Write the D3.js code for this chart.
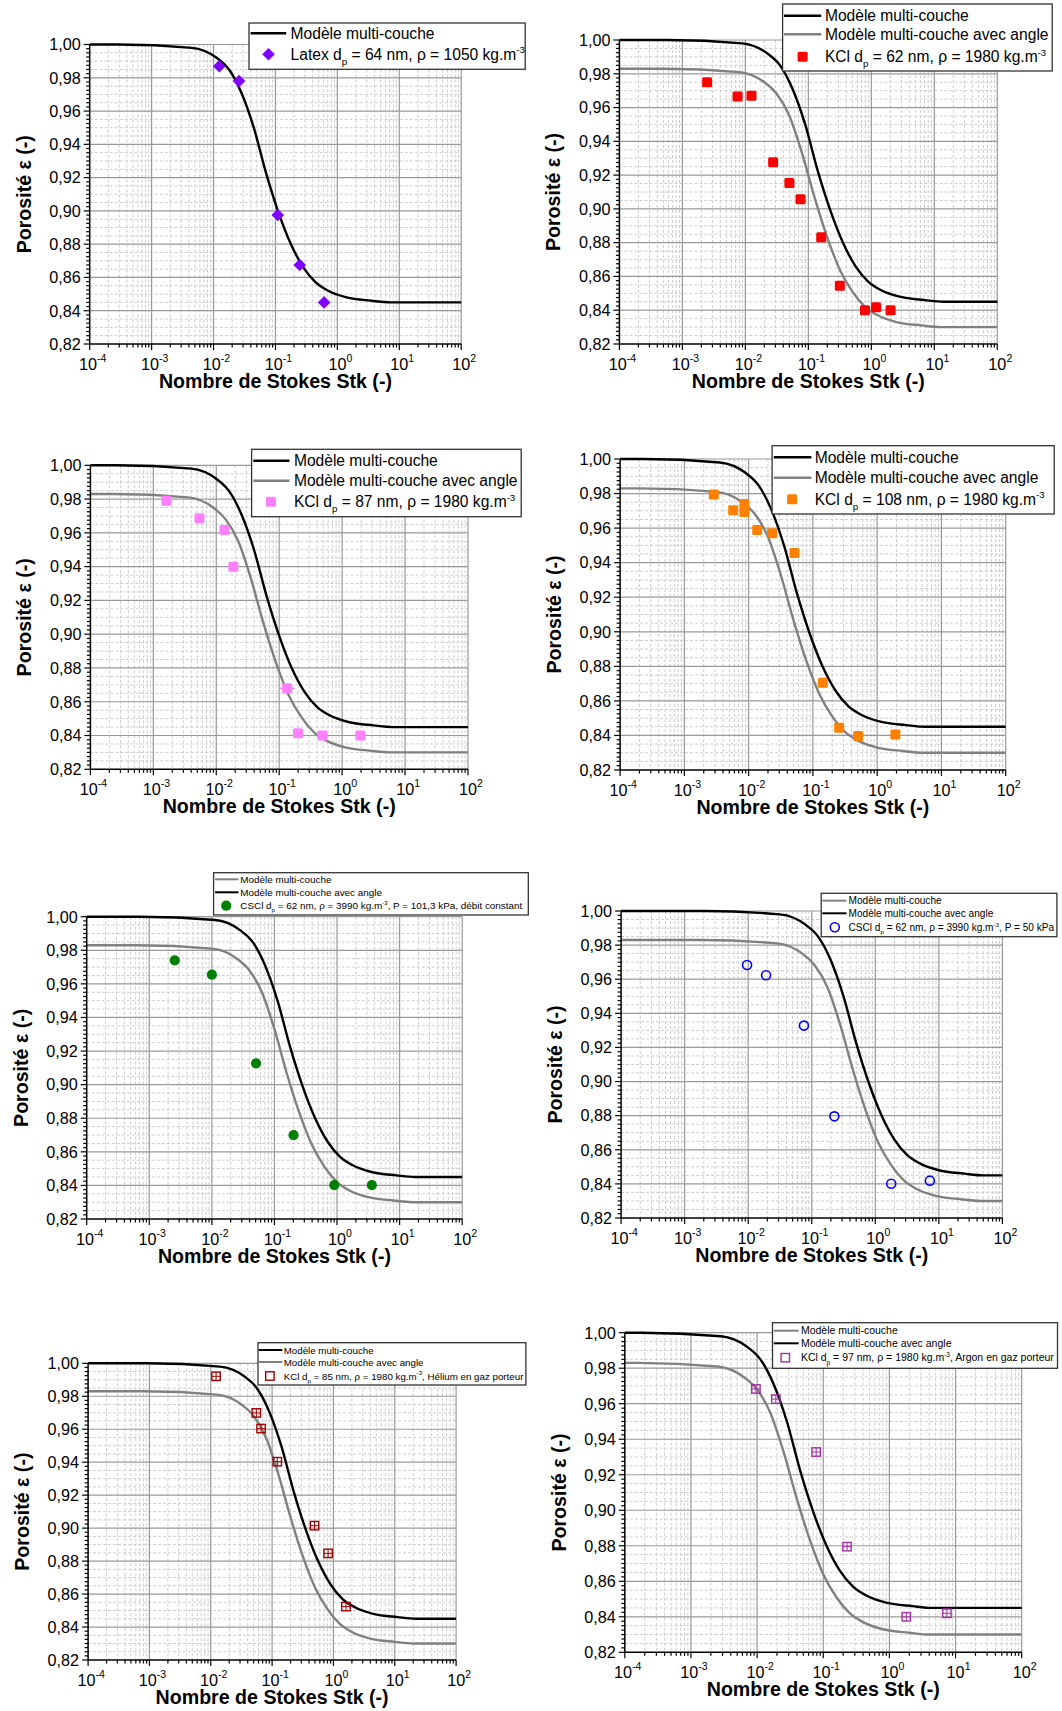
<!DOCTYPE html>
<html><head><meta charset="utf-8">
<script src="https://cdn.jsdelivr.net/npm/d3@7"></script>
<style>body{margin:0;background:#fff}svg{display:block}text{font-family:Arial,"Liberation Sans",sans-serif;fill:#000}</style>
</head><body><svg id="c" width="1062" height="1711"></svg>
<script>
// ---------- data ----------
const yTickValues = [0.82, 0.84, 0.86, 0.88, 0.90, 0.92, 0.94, 0.96, 0.98, 1.00];
const yTickLabels = ["0,82","0,84","0,86","0,88","0,90","0,92","0,94","0,96","0,98","1,00"];
const xTickValues = [1e-4, 1e-3, 1e-2, 1e-1, 1e0, 1e1, 1e2];
const xTickExps = ["-4","-3","-2","-1","0","1","2"];
const xTitle = "Nombre de Stokes Stk (-)";
const yTitle = "Porosité ε (-)";
const lblMulti = "Modèle multi-couche";
const lblAngle = "Modèle multi-couche avec angle";

// model curves: porosity values
const epsMulti = [1.000, 1.000, 0.998, 0.992, 0.985, 0.971, 0.950, 0.9225, 0.899, 0.880, 0.866, 0.857, 0.852, 0.848, 0.846, 0.845, 0.845];
const epsAngle = [0.983, 0.983, 0.981, 0.975, 0.968, 0.955, 0.933, 0.9065, 0.883, 0.864, 0.851, 0.842, 0.837, 0.833, 0.831, 0.830, 0.830];
// Stokes abscissae of the curves, per panel
const stkMulti1 = [1e-4, 2.82e-4, 4.47e-3, 0.0112, 0.0178, 0.0282, 0.0447, 0.0708, 0.112, 0.178, 0.282, 0.447, 0.708, 1.41, 3.55, 7.08, 100];
const stkMulti2 = [1e-4, 5.62e-4, 8.91e-3, 0.0224, 0.0355, 0.0562, 0.0891, 0.141, 0.224, 0.355, 0.562, 0.891, 1.41, 2.82, 7.08, 14.1, 100];
const stkAngle2 = [1e-4, 5.01e-4, 7.94e-3, 0.0200, 0.0316, 0.0501, 0.0794, 0.126, 0.200, 0.316, 0.501, 0.794, 1.26, 2.51, 6.31, 12.6, 100];
const stkMulti3 = [1e-4, 2.51e-4, 3.98e-3, 0.0100, 0.0158, 0.0251, 0.0398, 0.0631, 0.100, 0.158, 0.251, 0.398, 0.631, 1.26, 3.16, 6.31, 100];
const stkAngle3 = [1e-4, 2.24e-4, 3.55e-3, 8.91e-3, 0.0141, 0.0224, 0.0355, 0.0562, 0.0891, 0.141, 0.224, 0.355, 0.562, 1.12, 2.82, 5.62, 100];
const stkMulti4 = [1e-4, 2.24e-4, 3.55e-3, 8.91e-3, 0.0141, 0.0224, 0.0355, 0.0562, 0.0891, 0.141, 0.224, 0.355, 0.562, 1.12, 2.82, 5.62, 100];
const stkAngle4 = [1e-4, 2.00e-4, 3.16e-3, 7.94e-3, 0.0126, 0.0200, 0.0316, 0.0501, 0.0794, 0.126, 0.200, 0.316, 0.501, 1.00, 2.51, 5.01, 100];
const stkMulti5 = [1e-4, 7.08e-4, 0.0112, 0.0282, 0.0447, 0.0708, 0.112, 0.178, 0.282, 0.447, 0.708, 1.12, 1.78, 3.55, 8.91, 17.8, 100];
const stkAngle5 = [1e-4, 6.31e-4, 0.0100, 0.0251, 0.0398, 0.0631, 0.100, 0.158, 0.251, 0.398, 0.631, 1.00, 1.58, 3.16, 7.94, 15.8, 100];
const stkMulti6 = [1e-4, 2.00e-3, 0.0316, 0.0794, 0.126, 0.200, 0.316, 0.501, 0.794, 1.26, 2.00, 3.16, 5.01, 10.0, 25.1, 50.1, 100];
const stkAngle6 = [1e-4, 1.78e-3, 0.0282, 0.0708, 0.112, 0.178, 0.282, 0.447, 0.708, 1.12, 1.78, 2.82, 4.47, 8.91, 22.4, 44.7, 100];
const stkMulti7 = [1e-4, 8.91e-4, 0.0141, 0.0355, 0.0562, 0.0891, 0.141, 0.224, 0.355, 0.562, 0.891, 1.41, 2.24, 4.47, 11.2, 22.4, 100];
const stkAngle7 = [1e-4, 7.94e-4, 0.0126, 0.0316, 0.0501, 0.0794, 0.126, 0.200, 0.316, 0.501, 0.794, 1.26, 2.00, 3.98, 10.0, 20.0, 100];
const stkMulti8 = [1e-4, 1.78e-4, 2.82e-3, 7.08e-3, 0.0112, 0.0178, 0.0282, 0.0447, 0.0708, 0.112, 0.178, 0.282, 0.447, 0.891, 2.24, 4.47, 100];
const stkAngle8 = [1e-4, 1.58e-4, 2.51e-3, 6.31e-3, 0.0100, 0.0158, 0.0251, 0.0398, 0.0631, 0.100, 0.158, 0.251, 0.398, 0.794, 2.00, 3.98, 100];

// experimental points
const p1Stk = [0.0124, 0.0258, 0.109, 0.247, 0.611];
const p1Eps = [0.987, 0.978, 0.8975, 0.8675, 0.845];
const p2Stk = [0.00247, 0.00751, 0.0125, 0.0276, 0.0500, 0.0751, 0.160, 0.316, 0.791, 1.19, 2.02];
const p2Eps = [0.975, 0.9666, 0.967, 0.9276, 0.9153, 0.9057, 0.8832, 0.8545, 0.840, 0.8417, 0.840];
const p3Stk = [0.00161, 0.00541, 0.0135, 0.0187, 0.134, 0.199, 0.486, 1.95];
const p3Eps = [0.979, 0.9686, 0.9617, 0.940, 0.868, 0.8413, 0.840, 0.840];
const p3ErrLo = [null, null, null, null, 0.101, null, null, null];
const p3ErrHi = [null, null, null, null, 0.176, null, null, null];
const p4Stk = [0.00287, 0.00575, 0.00859, 0.00859, 0.0136, 0.0232, 0.0516, 0.143, 0.256, 0.506, 1.92];
const p4Eps = [0.9795, 0.9703, 0.974, 0.9693, 0.9589, 0.957, 0.9456, 0.8705, 0.8445, 0.8397, 0.8406];
const p5Stk = [0.00255, 0.0100, 0.0508, 0.202, 0.904, 3.60];
const p5Eps = [0.974, 0.9655, 0.9127, 0.870, 0.8402, 0.8402];
const p6Stk = [0.0096, 0.0191, 0.0753, 0.227, 1.78, 7.23];
const p6Eps = [0.9683, 0.9623, 0.9328, 0.8796, 0.8401, 0.8419];
const p7Stk = [0.0122, 0.0553, 0.0661, 0.1216, 0.492, 0.818, 1.60];
const p7Eps = [0.9921, 0.9699, 0.9604, 0.9403, 0.9015, 0.8847, 0.8524];
const p8Stk = [0.0096, 0.0192, 0.0781, 0.229, 1.80, 7.40];
const p8Eps = [0.9683, 0.9626, 0.9328, 0.8795, 0.840, 0.842];

// legend labels for the data series (segments: text, sub, sup)
const lbl1 = [["Latex d"],["p","sub"],[" = 64 nm, ρ = 1050 kg.m"],["-3","sup"]];
const lbl2 = [["KCl d"],["p","sub"],[" = 62 nm, ρ = 1980 kg.m"],["-3","sup"]];
const lbl3 = [["KCl d"],["p","sub"],[" = 87 nm, ρ = 1980 kg.m"],["-3","sup"]];
const lbl4 = [["KCl d"],["p","sub"],[" = 108 nm, ρ = 1980 kg.m"],["-3","sup"]];
const lbl5 = [["CSCl d"],["p","sub"],[" = 62 nm, ρ = 3990 kg.m"],["-3","sup"],[", P = 101,3 kPa, débit constant"]];
const lbl6 = [["CSCl d"],["p","sub"],[" = 62 nm, ρ = 3990 kg.m"],["-3","sup"],[", P = 50 kPa"]];
const lbl7 = [["KCl d"],["p","sub"],[" = 85 nm, ρ = 1980 kg.m"],["-3","sup"],[", Hélium en gaz porteur"]];
const lbl8 = [["KCl d"],["p","sub"],[" = 97 nm, ρ = 1980 kg.m"],["-3","sup"],[", Argon en gaz porteur"]];

// ---------- styles / layout ----------
const BLACK = "#000000", GRAY = "#808080";
const zip = (a, b) => a.map((v, i) => ({stk: v, eps: b[i]}));
const BIG = 15.6;

const panels = [
  {l:89.7, r:461.2, t:44.5, b:344, stk:p1Stk, eps:p1Eps, mk:"diamond", col:"#8000ff",
   curves:[{s:stkMulti1, e:epsMulti, c:BLACK}],
   leg:{box:[249,23,525.2,69.3], fs:BIG, lw:2.6, x1:250.6, x2:286.2, tx:290.6, mx:268.5,
        items:[{k:"line", c:BLACK, y:33.3, t:[[lblMulti]]},{k:"mk", y:54.3, t:lbl1}]}},
  {l:619.4, r:997.3, t:40, b:344, stk:p2Stk, eps:p2Eps, mk:"square", col:"#ff0000",
   curves:[{s:stkAngle2, e:epsAngle, c:GRAY},{s:stkMulti2, e:epsMulti, c:BLACK}],
   leg:{box:[782.6,4,1052.2,71], fs:BIG, lw:2.6, x1:784, x2:821.2, tx:824.9, mx:802.6,
        items:[{k:"line", c:BLACK, y:15.7, t:[[lblMulti]]},{k:"line", c:GRAY, y:34.3, t:[[lblAngle]]},{k:"mk", y:56.7, t:lbl2}]}},
  {l:90.4, r:468, t:465.3, b:769.3, stk:p3Stk, eps:p3Eps, errLo:p3ErrLo, errHi:p3ErrHi, mk:"square", col:"#ff80ff",
   curves:[{s:stkAngle3, e:epsAngle, c:GRAY},{s:stkMulti3, e:epsMulti, c:BLACK}],
   leg:{box:[251.6,449.3,521.2,516.7], fs:BIG, lw:2.6, x1:253.3, x2:289.5, tx:293.9, mx:270.9,
        items:[{k:"line", c:BLACK, y:460.7, t:[[lblMulti]]},{k:"line", c:GRAY, y:480.7, t:[[lblAngle]]},{k:"mk", y:501.7, t:lbl3}]}},
  {l:620.1, r:1005.7, t:459, b:770, stk:p4Stk, eps:p4Eps, mk:"square", col:"#ff8000",
   curves:[{s:stkAngle4, e:epsAngle, c:GRAY},{s:stkMulti4, e:epsMulti, c:BLACK}],
   leg:{box:[772.1,445.7,1054.2,514], fs:BIG, lw:2.6, x1:773.8, x2:811.4, tx:814.7, mx:792.1,
        items:[{k:"line", c:BLACK, y:457.3, t:[[lblMulti]]},{k:"line", c:GRAY, y:477.7, t:[[lblAngle]]},{k:"mk", y:499.3, t:lbl4}]}},
  {l:86.7, r:462.2, t:916.7, b:1219, stk:p5Stk, eps:p5Eps, mk:"circle", col:"#008000",
   curves:[{s:stkAngle5, e:epsAngle, c:GRAY},{s:stkMulti5, e:epsMulti, c:BLACK}],
   leg:{box:[213.6,872.7,528.3,915], fs:9.9, lw:2, x1:215.1, x2:238.5, tx:240.3, mx:226.2,
        items:[{k:"line", c:GRAY, y:879.3, t:[[lblMulti]]},{k:"line", c:BLACK, y:892.3, t:[[lblAngle]]},{k:"mk", y:905.7, t:lbl5}]}},
  {l:621.1, r:1002.4, t:911, b:1218, stk:p6Stk, eps:p6Eps, mk:"ocircle", col:"#0000ff",
   curves:[{s:stkAngle6, e:epsAngle, c:GRAY},{s:stkMulti6, e:epsMulti, c:BLACK}],
   leg:{box:[821.2,893.3,1056.9,936.7], fs:10.1, lw:2, x1:822.3, x2:846.5, tx:848.5, mx:834.8,
        items:[{k:"line", c:GRAY, y:900.7, t:[[lblMulti]]},{k:"line", c:BLACK, y:913.3, t:[[lblAngle]]},{k:"mk", y:927.3, t:lbl6}]}},
  {l:88.1, r:456.1, t:1363.3, b:1660, stk:p7Stk, eps:p7Eps, mk:"osquare", col:"#a00000",
   curves:[{s:stkAngle7, e:epsAngle, c:GRAY},{s:stkMulti7, e:epsMulti, c:BLACK}],
   leg:{box:[258,1342.7,525.9,1385], fs:9.75, lw:2, x1:258.7, x2:282.3, tx:283.7, mx:269.9,
        items:[{k:"line", c:BLACK, y:1350, t:[[lblMulti]]},{k:"line", c:GRAY, y:1362, t:[[lblAngle]]},{k:"mk", y:1376, t:lbl7}]}},
  {l:624.8, r:1021.7, t:1332.7, b:1652.3, stk:p8Stk, eps:p8Eps, mk:"osquare", col:"#a030a0",
   curves:[{s:stkAngle8, e:epsAngle, c:GRAY},{s:stkMulti8, e:epsMulti, c:BLACK}],
   leg:{box:[772.5,1322.7,1057.5,1368.3], fs:10.5, lw:2, x1:773.8, x2:798.7, tx:800.9, mx:785.3,
        items:[{k:"line", c:GRAY, y:1330.7, t:[[lblMulti]]},{k:"line", c:BLACK, y:1343.3, t:[[lblAngle]]},{k:"mk", y:1357.7, t:lbl8}]}}
];

const svg = d3.select("#c");

function rich(sel, segs, fs) {
  let shift = 0;
  segs.forEach(([str, kind]) => {
    let target = 0, size = null;
    if (kind === "sub") { target = fs * 0.32; size = fs * 0.62; }
    else if (kind === "sup") { target = -fs * 0.42; size = fs * 0.62; }
    const ts = sel.append("tspan").attr("dy", target - shift).text(str);
    if (size) ts.attr("font-size", size);
    shift = target;
  });
}

function marker(g, type, cx, cy, col) {
  if (type === "diamond") {
    const h = 6.3;
    g.append("path").attr("d", `M${cx},${cy-h}L${cx+h},${cy}L${cx},${cy+h}L${cx-h},${cy}Z`).attr("fill", col);
  } else if (type === "square") {
    g.append("rect").attr("x", cx-5).attr("y", cy-5).attr("width", 10).attr("height", 10).attr("rx", 1.5).attr("fill", col);
  } else if (type === "circle") {
    g.append("circle").attr("cx", cx).attr("cy", cy).attr("r", 5.1).attr("fill", col);
  } else if (type === "ocircle") {
    g.append("circle").attr("cx", cx).attr("cy", cy).attr("r", 4.5).attr("fill", "none").attr("stroke", col).attr("stroke-width", 1.6);
  } else if (type === "osquare") {
    g.append("rect").attr("x", cx-4.2).attr("y", cy-4.2).attr("width", 8.4).attr("height", 8.4).attr("fill", "none").attr("stroke", col).attr("stroke-width", 1.4);
  }
}

function drawPanel(p) {
  const g = svg.append("g");
  const x = d3.scaleLog().domain([1e-4, 1e2]).range([p.l, p.r]);
  const y = d3.scaleLinear().domain([0.82, 1.0]).range([p.b, p.t]);

  // minor grid
  const allX = x.ticks();
  const isMajorX = v => Math.abs(Math.log10(v) - Math.round(Math.log10(v))) < 1e-6;
  const minorX = allX.filter(v => !isMajorX(v));
  const minorY = d3.range(1, 36).filter(i => i % 4 !== 0).map(i => 0.82 + i * 0.005);
  g.append("g").selectAll("line").data(minorX).join("line")
    .attr("x1", d => x(d)).attr("x2", d => x(d)).attr("y1", p.t).attr("y2", p.b)
    .attr("stroke", "#cdcdcd").attr("stroke-width", 1).attr("stroke-dasharray", "3,2");
  g.append("g").selectAll("line").data(minorY).join("line")
    .attr("x1", p.l).attr("x2", p.r).attr("y1", d => y(d)).attr("y2", d => y(d))
    .attr("stroke", "#cdcdcd").attr("stroke-width", 1).attr("stroke-dasharray", "3,2");
  // major grid
  g.append("g").selectAll("line").data(xTickValues.slice(1)).join("line")
    .attr("x1", d => x(d)).attr("x2", d => x(d)).attr("y1", p.t).attr("y2", p.b)
    .attr("stroke", "#999").attr("stroke-width", 1.2);
  g.append("g").selectAll("line").data(yTickValues.slice(1)).join("line")
    .attr("x1", p.l).attr("x2", p.r).attr("y1", d => y(d)).attr("y2", d => y(d))
    .attr("stroke", "#999").attr("stroke-width", 1.2);

  // curves
  const line = d3.line().x(d => x(d.stk)).y(d => y(d.eps)).curve(d3.curveMonotoneX);
  p.curves.forEach(c => {
    g.append("path").attr("d", line(zip(c.s, c.e))).attr("fill", "none")
      .attr("stroke", c.c).attr("stroke-width", 2.4);
  });

  // axes
  const ax = g.append("g");
  ax.append("line").attr("x1", p.l).attr("x2", p.l).attr("y1", p.t).attr("y2", p.b).attr("stroke", "#000").attr("stroke-width", 1.5);
  ax.append("line").attr("x1", p.l).attr("x2", p.r).attr("y1", p.b).attr("y2", p.b).attr("stroke", "#000").attr("stroke-width", 1.5);
  ax.selectAll(".xt").data(allX).join("line")
    .attr("x1", d => x(d)).attr("x2", d => x(d)).attr("y1", p.b)
    .attr("y2", d => p.b + (isMajorX(d) ? 6 : 3.5)).attr("stroke", "#000").attr("stroke-width", 1.2);
  ax.selectAll(".yt").data(d3.range(0, 73)).join("line")
    .attr("y1", i => y(0.82 + i * 0.0025)).attr("y2", i => y(0.82 + i * 0.0025))
    .attr("x1", p.l).attr("x2", i => p.l - (i % 8 === 0 ? 6 : 3.5)).attr("stroke", "#000").attr("stroke-width", 1.2);

  // tick labels
  yTickValues.forEach((v, i) => {
    g.append("text").attr("x", p.l - 9).attr("y", y(v)).attr("dy", "0.36em")
      .attr("text-anchor", "end").attr("font-size", 16.2).text(yTickLabels[i]);
  });
  xTickValues.forEach((v, i) => {
    const t = g.append("text").attr("x", x(v) + 3).attr("y", p.b + 25.5)
      .attr("text-anchor", "middle").attr("font-size", 16.2);
    t.append("tspan").text("10");
    t.append("tspan").attr("dy", -7.5).attr("font-size", 10.5).text(xTickExps[i]);
  });

  // titles
  g.append("text").attr("x", (p.l + p.r) / 2).attr("y", p.b + 44)
    .attr("text-anchor", "middle").attr("font-size", 19.6).attr("font-weight", "bold").text(xTitle);
  g.append("text").attr("transform", `translate(${p.l - 59},${(p.t + p.b) / 2}) rotate(-90)`)
    .attr("text-anchor", "middle").attr("font-size", 19.6).attr("font-weight", "bold").text(yTitle);

  // error bars
  if (p.errLo) {
    p.errLo.forEach((lo, i) => {
      if (lo == null) return;
      g.append("line").attr("x1", x(lo)).attr("x2", x(p.errHi[i])).attr("y1", y(p.eps[i])).attr("y2", y(p.eps[i]))
        .attr("stroke", p.col).attr("stroke-width", 1.5);
    });
  }
  // points
  const pts = g.append("g");
  zip(p.stk, p.eps).forEach(d => {
    const cx = x(d.stk), cy = y(d.eps);
    marker(pts, p.mk, cx, cy, p.col);
    if (p.mk === "osquare") {
      pts.append("line").attr("x1", cx).attr("x2", cx).attr("y1", cy - 4.2).attr("y2", cy + 4.2).attr("stroke", p.col).attr("stroke-width", 1);
      pts.append("line").attr("x1", cx - 4.2).attr("x2", cx + 4.2).attr("y1", cy).attr("y2", cy).attr("stroke", p.col).attr("stroke-width", 1);
    }
  });

  // legend
  const L = p.leg;
  const lg = g.append("g");
  lg.append("rect").attr("x", L.box[0]).attr("y", L.box[1]).attr("width", L.box[2] - L.box[0]).attr("height", L.box[3] - L.box[1])
    .attr("fill", "#fff").attr("stroke", "#333").attr("stroke-width", 1.3);
  L.items.forEach(it => {
    if (it.k === "line") {
      lg.append("line").attr("x1", L.x1).attr("x2", L.x2).attr("y1", it.y).attr("y2", it.y).attr("stroke", it.c).attr("stroke-width", L.lw);
    } else {
      marker(lg, p.mk, L.mx, it.y, p.col);
    }
    const t = lg.append("text").attr("x", L.tx).attr("y", it.y + L.fs * 0.36).attr("font-size", L.fs);
    rich(t, it.t, L.fs);
  });
}

panels.forEach(drawPanel);
</script></body></html>
